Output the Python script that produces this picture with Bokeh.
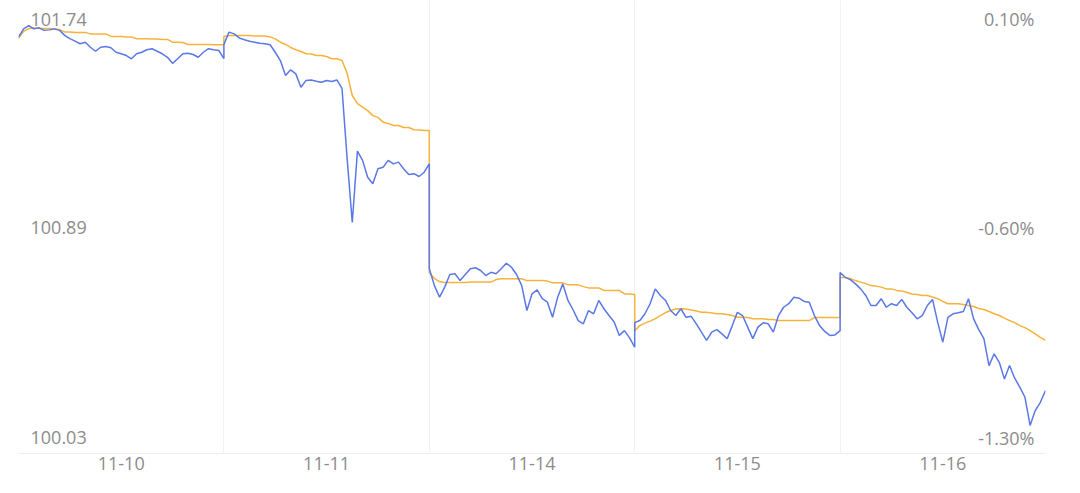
from bokeh.plotting import figure
from bokeh.models import ColumnDataSource, Range1d, FixedTicker
from bokeh.core.properties import value
from bokeh.embed import file_html
from bokeh.resources import INLINE

# ---- data -------------------------------------------------------------
days = ["11-10", "11-11", "11-14", "11-15", "11-16"]

# intraday price (blue) per trading day, evenly spaced samples
price_1110 = [101.634, 101.667, 101.680, 101.667, 101.671, 101.661, 101.663, 101.667, 101.661, 101.641,
              101.628, 101.618, 101.608, 101.614, 101.594, 101.578, 101.594, 101.597, 101.592, 101.574,
              101.568, 101.561, 101.548, 101.568, 101.574, 101.584, 101.588, 101.578, 101.568, 101.554,
              101.530, 101.548, 101.568, 101.570, 101.565, 101.554, 101.574, 101.588, 101.584, 101.581,
              101.549]
price_1111 = [101.605, 101.654, 101.647, 101.631, 101.624, 101.618, 101.614, 101.610, 101.608, 101.604,
              101.574, 101.541, 101.482, 101.504, 101.488, 101.435, 101.462, 101.464, 101.459, 101.455,
              101.462, 101.458, 101.464, 101.430, 101.151, 100.897, 101.181, 101.144, 101.077, 101.051,
              101.111, 101.117, 101.144, 101.130, 101.137, 101.111, 101.088, 101.091, 101.080, 101.097,
              101.130]
price_1114 = [100.713, 100.646, 100.600, 100.640, 100.690, 100.693, 100.666, 100.690, 100.713, 100.717,
              100.706, 100.686, 100.699, 100.693, 100.713, 100.735, 100.719, 100.690, 100.646, 100.547,
              100.613, 100.629, 100.594, 100.580, 100.520, 100.600, 100.653, 100.587, 100.550, 100.507,
              100.494, 100.547, 100.534, 100.587, 100.554, 100.527, 100.501, 100.448, 100.467, 100.438,
              100.401]
price_1115 = [100.499, 100.507, 100.534, 100.574, 100.633, 100.607, 100.587, 100.547, 100.527, 100.554,
              100.520, 100.524, 100.494, 100.461, 100.428, 100.461, 100.471, 100.454, 100.435, 100.487,
              100.540, 100.527, 100.481, 100.435, 100.481, 100.498, 100.494, 100.461, 100.527, 100.560,
              100.574, 100.600, 100.596, 100.583, 100.580, 100.527, 100.487, 100.464, 100.448, 100.450,
              100.467]
price_1116 = [100.698, 100.679, 100.670, 100.653, 100.633, 100.607, 100.567, 100.567, 100.594, 100.560,
              100.574, 100.567, 100.591, 100.560, 100.538, 100.514, 100.527, 100.567, 100.591, 100.501,
              100.421, 100.520, 100.534, 100.538, 100.543, 100.594, 100.514, 100.471, 100.435, 100.328,
              100.375, 100.341, 100.275, 100.328, 100.278, 100.242, 100.202, 100.090, 100.149, 100.182,
              100.229]

# running average price (orange)
avg_1110 = [101.629, 101.657, 101.668, 101.670, 101.668, 101.668, 101.668, 101.666, 101.664, 101.655,
            101.655, 101.653, 101.653, 101.653, 101.647, 101.647, 101.647, 101.647, 101.637, 101.637,
            101.637, 101.635, 101.635, 101.628, 101.628, 101.628, 101.627, 101.627, 101.625, 101.625,
            101.614, 101.614, 101.613, 101.605, 101.605, 101.605, 101.605, 101.605, 101.604, 101.604,
            101.604]
avg_1111 = [101.637, 101.641, 101.641, 101.641, 101.641, 101.641, 101.639, 101.639, 101.639, 101.635,
            101.627, 101.614, 101.605, 101.593, 101.584, 101.577, 101.568, 101.567, 101.561, 101.561,
            101.557, 101.548, 101.548, 101.541, 101.490, 101.402, 101.370, 101.356, 101.342, 101.322,
            101.315, 101.296, 101.291, 101.283, 101.283, 101.275, 101.275, 101.266, 101.265, 101.263,
            101.263]
avg_1114 = [100.698, 100.674, 100.662, 100.658, 100.658, 100.658, 100.658, 100.658, 100.660, 100.660,
            100.660, 100.660, 100.660, 100.670, 100.673, 100.673, 100.673, 100.673, 100.673, 100.666,
            100.666, 100.666, 100.666, 100.664, 100.657, 100.657, 100.657, 100.649, 100.649, 100.649,
            100.642, 100.637, 100.637, 100.637, 100.627, 100.627, 100.627, 100.627, 100.613, 100.613,
            100.611]
avg_1115 = [100.467, 100.487, 100.497, 100.505, 100.515, 100.527, 100.539, 100.547, 100.553, 100.554,
            100.553, 100.549, 100.545, 100.540, 100.540, 100.537, 100.534, 100.534, 100.531, 100.527,
            100.520, 100.520, 100.519, 100.514, 100.514, 100.514, 100.511, 100.511, 100.507, 100.507,
            100.507, 100.507, 100.507, 100.507, 100.507, 100.519, 100.519, 100.519, 100.519, 100.519,
            100.519]
avg_1116 = [100.679, 100.678, 100.674, 100.666, 100.660, 100.654, 100.646, 100.644, 100.640, 100.633,
            100.633, 100.627, 100.625, 100.619, 100.613, 100.611, 100.607, 100.607, 100.601, 100.594,
            100.583, 100.574, 100.574, 100.574, 100.571, 100.567, 100.563, 100.555, 100.551, 100.543,
            100.534, 100.527, 100.517, 100.507, 100.499, 100.487, 100.479, 100.467, 100.454, 100.440,
            100.428]

price_ticks = [100.03, 100.885, 101.74]
price_labels = ["100.03", "100.89", "101.74"]
pct_labels = ["-1.30%", "-0.60%", "0.10%"]

# ---- assemble ---------------------------------------------------------
prices = [price_1110, price_1111, price_1114, price_1115, price_1116]
avgs = [avg_1110, avg_1111, avg_1114, avg_1115, avg_1116]
xs, ps, avs = [], [], []
for d, (pr, av) in enumerate(zip(prices, avgs)):
    n = len(pr)
    for k in range(n):
        xs.append(d + k / (n - 1))
        ps.append(pr[k])
        avs.append(av[k])
src = ColumnDataSource(dict(x=xs, price=ps, avg=avs))

FONT = "Open Sans"
GREY = "#8c8c8c"

p = figure(width=1064, height=485, output_backend="svg", toolbar_location=None,
           x_range=Range1d(0, len(days)), y_range=Range1d(99.9784, 101.7798),
           y_axis_location=None, min_border_left=18, min_border_right=19,
           min_border_top=0, min_border_bottom=32)
p.outline_line_color = None
p.background_fill_color = "white"
p.border_fill_color = "white"

p.line("x", "avg", source=src, line_color="#f6b23a", line_width=1.5)
p.line("x", "price", source=src, line_color="#5a78e6", line_width=1.5)

# x axis: day labels centred in each session
centers = [i + 0.5 for i in range(len(days))]
p.xaxis.ticker = FixedTicker(ticks=centers)
p.xaxis.major_label_overrides = {c: d for c, d in zip(centers, days)}
p.xaxis.axis_line_color = "#eeeeee"
p.xaxis.major_tick_line_color = None
p.xaxis.minor_tick_line_color = None
p.xaxis.major_tick_out = 0
p.xaxis.major_tick_in = 0
p.xaxis.major_label_standoff = 3
p.xaxis.major_label_text_font = FONT
p.xaxis.major_label_text_font_size = "18px"
p.xaxis.major_label_text_color = GREY

p.xgrid.ticker = FixedTicker(ticks=list(range(len(days) + 1)))
p.xgrid.grid_line_color = "#f2f2f2"
p.ygrid.grid_line_color = None

# axis labels drawn inside the plot (offsets in screen px, positive = down):
# bottom label sits above its line, middle centred, top label hangs below
lab = ColumnDataSource(dict(y=price_ticks, left=price_labels, right=pct_labels,
                            dy=[-3.0, 2.2, 8.5]))
p.text(x=0, y="y", text="left", source=lab, x_offset=12, y_offset="dy",
       text_align="left", text_baseline="middle", text_font=value(FONT),
       text_font_size="18px", text_color=GREY)
p.text(x=len(days), y="y", text="right", source=lab, x_offset=-11, y_offset="dy",
       text_align="right", text_baseline="middle", text_font=value(FONT),
       text_font_size="18px", text_color=GREY)

open("out.html", "w").write(file_html(p, INLINE))
